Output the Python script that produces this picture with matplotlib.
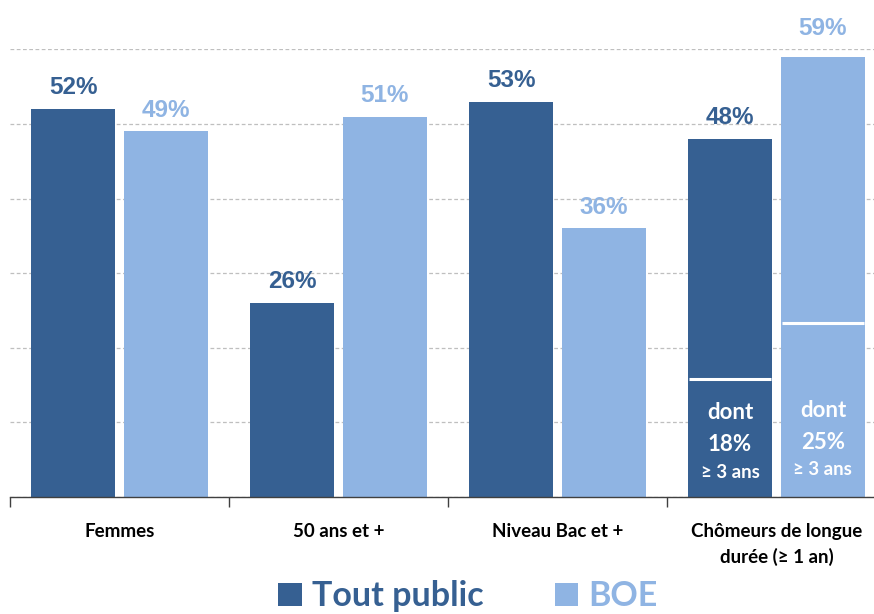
import matplotlib
matplotlib.use("Agg")
import matplotlib.pyplot as plt
import numpy as np
from matplotlib.patches import Patch

categories = ["Femmes", "50 ans et +", "Niveau Bac et +", "Chômeurs de longue\ndurée (≥ 1 an)"]
tout_public = [52, 26, 53, 48]
boe = [49, 51, 36, 59]
series_names = ["Tout public", "BOE"]
# split line inside the last group (dont ≥ 3 ans), as drawn in the picture
split_heights = [15.8, 23.3]
split_values = ["18%", "25%"]

DARK = "#366092"
LIGHT = "#8FB4E3"

fig = plt.figure(figsize=(8.74, 6.14), dpi=100)
ax = fig.add_axes([10/874, (614-497)/614, 876/874, (497-49.4)/614])

x = np.arange(len(categories))
w = 0.385
off = 0.212
ax.bar(x - off, tout_public, w, color=DARK, zorder=3)
ax.bar(x + off, boe, w, color=LIGHT, zorder=3)

ax.set_xlim(-0.5, 3.5)
ax.set_ylim(0, 60)
ax.set_yticks(np.arange(0, 61, 10))
ax.yaxis.grid(True, color="#BFBFBF", linestyle=(0, (3, 2)), linewidth=0.9, zorder=0)
ax.tick_params(axis="y", length=0, labelleft=False)
for s in ["left", "right", "top"]:
    ax.spines[s].set_visible(False)
ax.spines["bottom"].set_color("#404040")
ax.spines["bottom"].set_linewidth(1.0)
ax.spines["bottom"].set_zorder(4)

ax.set_xticks(np.arange(-0.5, 3.5, 1.0))
ax.set_xticklabels([])
ax.tick_params(axis="x", which="major", length=7, color="#404040", width=1.0)
ax.set_xticks(x, minor=True)
ax.set_xticklabels(categories, minor=True, fontfamily="Lato", fontweight="bold",
                   fontsize=13.5, linespacing=1.5)
ax.tick_params(axis="x", which="minor", length=0, pad=19)

for xi, v in zip(x, tout_public):
    ax.text(xi - off, v + 1.3, f"{v}%", ha="center", va="bottom", color=DARK,
            fontsize=17.5, fontweight="bold", fontfamily="Liberation Sans")
for xi, v in zip(x, boe):
    ax.text(xi + off, v + (2.3 if v == max(boe) else 1.3), f"{v}%", ha="center",
            va="bottom", color=LIGHT,
            fontsize=17.5, fontweight="bold", fontfamily="Liberation Sans")

# split lines and inner labels for the last group
last = len(categories) - 1
for k, (sh, val) in enumerate(zip(split_heights, split_values)):
    xc = last + (-off if k == 0 else off)
    ax.plot([xc - w/2 + 0.004, xc + w/2 - 0.004], [sh, sh], color="white", lw=2.2,
            zorder=5, solid_capstyle="butt")
    dy = 0 if k == 0 else 0.35
    ax.text(xc, 11.3 + dy, "dont", ha="center", va="center", color="white",
            fontsize=16, fontweight="bold", fontfamily="Lato", zorder=6)
    ax.text(xc, 7.0 + dy, val, ha="center", va="center", color="white",
            fontsize=16, fontweight="bold", fontfamily="Lato", zorder=6)
    ax.text(xc, 3.35 + dy, "≥ 3 ans", ha="center", va="center", color="white",
            fontsize=13.5, fontweight="bold", fontfamily="Lato", zorder=6)

handles = [Patch(facecolor=DARK), Patch(facecolor=LIGHT)]
leg = fig.legend(handles, series_names, loc="center", bbox_to_anchor=(468/874, 17.5/614),
                 ncol=2, frameon=False, prop={"family": "Lato", "weight": "bold", "size": 24.5},
                 handlelength=0.68, handleheight=0.68, handletextpad=0.3, columnspacing=2.1,
                 borderpad=0.2)
for t, c in zip(leg.get_texts(), [DARK, LIGHT]):
    t.set_color(c)

fig.savefig("out.png", dpi=100)
